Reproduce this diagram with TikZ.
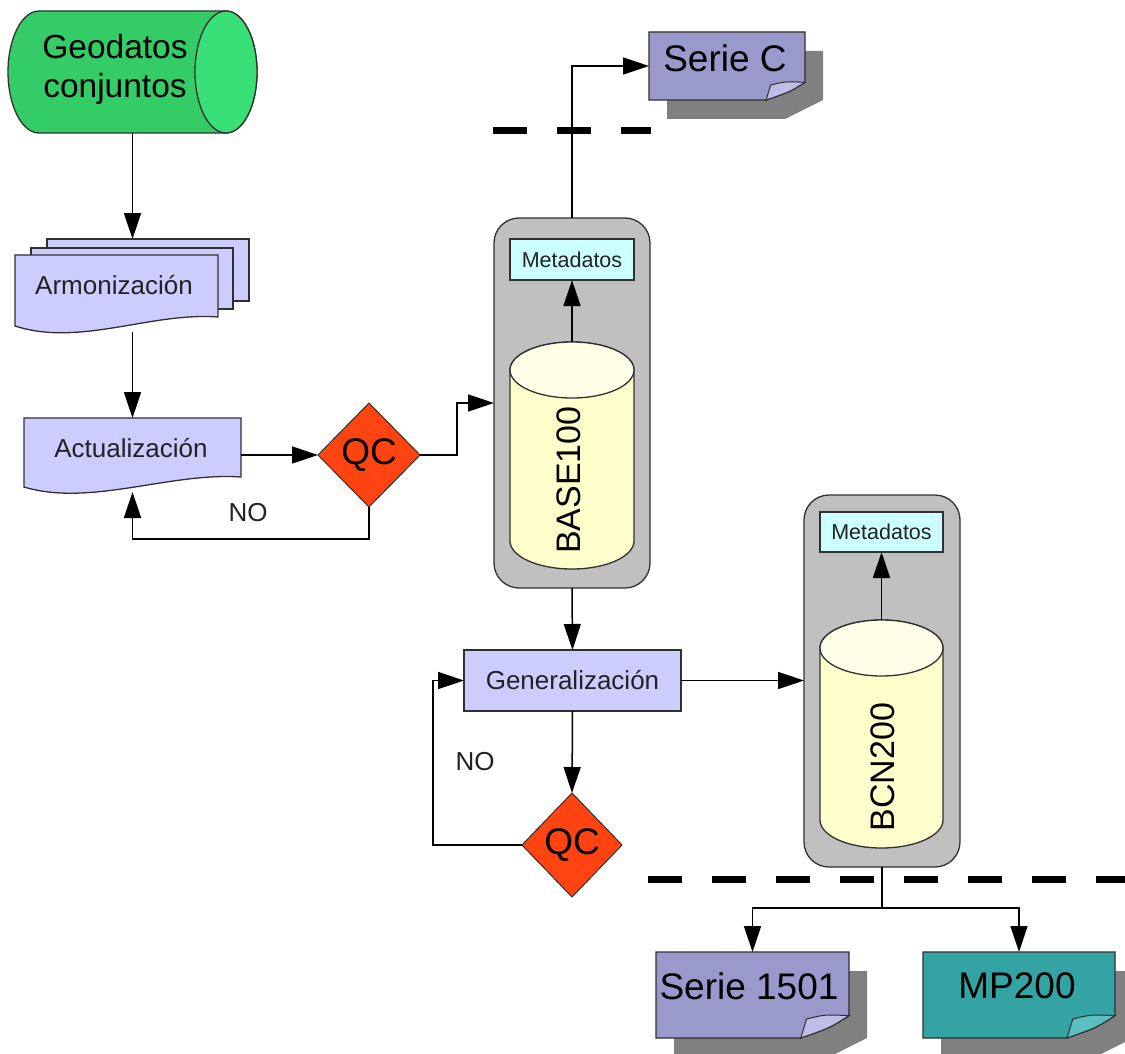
\documentclass[tikz,border=0pt]{standalone}
\usepackage{fontspec}
\setmainfont{Liberation Sans}
\usetikzlibrary{arrows.meta,shapes.geometric,calc}
\definecolor{geogreen}{HTML}{33CC66}
\definecolor{geogreenl}{HTML}{38E077}
\definecolor{lav}{HTML}{CCCCFF}
\definecolor{cyanl}{HTML}{CCFFFF}
\definecolor{grayb}{HTML}{C0C0C0}
\definecolor{cylf}{HTML}{FFFFCC}
\definecolor{cylt}{HTML}{FFFFE8}
\definecolor{qcred}{HTML}{FF4411}
\definecolor{notep}{HTML}{9999CC}
\definecolor{notepl}{HTML}{BDBDE8}
\definecolor{notet}{HTML}{33A3A3}
\definecolor{notetl}{HTML}{5CC0C0}
\definecolor{shadowg}{HTML}{808080}
\definecolor{edge}{HTML}{303030}
\definecolor{txtg}{HTML}{222222}
\newcommand\notebg[6]{%
 \pgfmathsetmacro\nbdx{0.25*(#3-#1)}%
 \pgfmathsetmacro\nbdy{0.26*(#4-#2)}%
 \fill[shadowg] ({#1+18},{#2+19}) -- ({#3+18},{#2+19}) -- ({#3+18},{#4}) -- ({#3-20},{#4+19}) -- ({#1+18},{#4+19}) -- cycle;
 \filldraw[shp, fill=#5] (#1,#2) -- (#3,#2) -- (#3,{#4-\nbdy}) .. controls ({#3-0.4*\nbdx},{#4-0.45*\nbdy}) .. ({#3-\nbdx},#4) -- (#1,#4) -- cycle;
 \filldraw[shp, fill=#6, line width=1pt] (#3,{#4-\nbdy}) .. controls ({#3-0.5*\nbdx},{#4-1.05*\nbdy}) .. ({#3-0.88*\nbdx},{#4-0.85*\nbdy}) -- ({#3-\nbdx},#4) .. controls ({#3-0.4*\nbdx},{#4-0.45*\nbdy}) .. (#3,{#4-\nbdy}) -- cycle;
}
\tikzset{
 boxfr/.style={inner sep=0pt, outer sep=0pt, draw=none},
 shp/.style={draw=edge, line width=1.3pt},
 conn/.style={line width=1.5pt, draw=black},
 arr/.style={conn, -{Triangle[length=26pt,width=17pt]}},
 dashsep/.style={line width=7pt, dash pattern=on 34pt off 30pt},
 midtxt/.style={font=\fontsize{26}{30}\selectfont, text=txtg, inner sep=0pt},
 bigtxt/.style={font=\fontsize{37}{44}\selectfont, text=black, inner sep=0pt},
 dbtxt/.style={font=\fontsize{34}{40}\selectfont, text=black, inner sep=0pt, rotate=90},
 metabox/.style={draw=edge, line width=1.3pt, fill=cyanl, minimum width=124pt, minimum height=41pt, inner sep=0pt, outer sep=0pt, font=\fontsize{21.5}{24}\selectfont, text=txtg},
 graybox/.style={draw=edge, line width=1.3pt, fill=grayb, rounded corners=25pt, minimum width=156pt, minimum height=370pt, inner sep=0pt, outer sep=0pt},
 qcnode/.style={diamond, draw=edge, line width=1pt, fill=qcred, inner sep=0pt, outer sep=0pt, font=\fontsize{37}{44}\selectfont},
}
\begin{document}
\begin{tikzpicture}[x=1pt,y=-1pt]
\useasboundingbox (0,0) rectangle (1125,1054);
% ---------- Geodatos conjuntos
\filldraw[shp, fill=geogreen] (39,11) arc[start angle=270, end angle=90, x radius=31, y radius=61] -- (226,133) arc[start angle=90, end angle=-90, x radius=31, y radius=61] -- cycle;
\filldraw[shp, fill=geogreenl] (226,72) ellipse [x radius=31, y radius=61];
\node[boxfr, minimum width=249pt, minimum height=122pt] (geo) at (132.5,72) {};
\node[font=\fontsize{33.5}{39}\selectfont, align=center, inner sep=0pt] (geo-t) at (115,69) {Geodatos\\conjuntos};
% ---------- Armonizacion (multi document)
\filldraw[shp, fill=lav] (47,239) rectangle (249,301);
\filldraw[shp, fill=lav] (31,248) rectangle (233,309);
\filldraw[shp, fill=lav] (15,255) -- (218,255) -- (218,317) .. controls (150,312) and (80,347) .. (15,326) -- cycle;
\node[boxfr, minimum width=234pt, minimum height=93pt] (arm) at (132,285.5) {};
\node[midtxt] (arm-t) at (114,285) {Armonización};
% ---------- Actualizacion
\filldraw[shp, fill=lav] (24,418) -- (241,418) -- (241,477) .. controls (170,472) and (90,507) .. (24,487) -- cycle;
\node[boxfr, minimum width=217pt, minimum height=74pt] (act) at (132.5,455) {};
\node[midtxt] (act-t) at (131,448) {Actualización};
% ---------- QC 1
\node[qcnode, minimum width=102pt, minimum height=104pt] (qc1) at (369,455) {QC};
% ---------- BASE100 group
\node[graybox] (base) at (572,403) {};
\node[metabox] (meta1) at (572,259.5) {Metadatos};
\filldraw[shp, fill=cylf] (510,370) -- (510,541) arc[start angle=180, end angle=0, x radius=62, y radius=28] -- (634,370) arc[start angle=360, end angle=180, x radius=62, y radius=28] -- cycle;
\filldraw[shp, fill=cylt] (572,370) ellipse [x radius=62, y radius=28];
\node[boxfr, minimum width=124pt, minimum height=227pt] (cyl1) at (572,455.5) {};
\node[dbtxt] (cyl1-t) at (569,480) {BASE100};
% ---------- Serie C
\notebg{649}{32}{805}{100}{notep}{notepl}
\node[boxfr, minimum width=156pt, minimum height=68pt] (serC) at (727,66) {};
\node[bigtxt] (serC-t) at (725,58) {Serie C};
% ---------- Generalizacion
\node[draw=edge, line width=1.3pt, fill=lav, minimum width=217pt, minimum height=61pt, inner sep=0pt, outer sep=0pt, font=\fontsize{26}{30}\selectfont, text=txtg] (gen) at (572.5,680.5) {Generalización};
\node[qcnode, minimum width=100pt, minimum height=104pt] (qc2) at (572,845) {QC};
% ---------- BCN200 group
\node[graybox, minimum height=372pt] (bcn) at (882,681) {};
\node[metabox, minimum width=123pt, minimum height=40pt] (meta2) at (881.5,532) {Metadatos};
\filldraw[shp, fill=cylf] (820,648) -- (820,820) arc[start angle=180, end angle=0, x radius=61.5, y radius=28] -- (943,648) arc[start angle=360, end angle=180, x radius=61.5, y radius=28] -- cycle;
\filldraw[shp, fill=cylt] (881.5,648) ellipse [x radius=61.5, y radius=28];
\node[boxfr, minimum width=123pt, minimum height=228pt] (cyl2) at (881.5,734) {};
\node[dbtxt] (cyl2-t) at (883,767) {BCN200};
% ---------- output notes
\notebg{656}{952}{849}{1038}{notep}{notepl}
\node[boxfr, minimum width=193pt, minimum height=86pt] (s1501) at (752.5,995) {};
\node[bigtxt] (s1501-t) at (749,986) {Serie 1501};
\notebg{923}{952}{1115}{1038}{notet}{notetl}
\node[boxfr, minimum width=192pt, minimum height=86pt] (mp) at (1019,995) {};
\node[bigtxt] (mp-t) at (1017,986) {MP200};
% ---------- separators
\draw[dashsep] (493,131) -- (651,131);
\draw[dashsep] (648,879) -- (1125,879);
% ---------- connectors
\draw[arr] (geo.south) -- (geo.south |- arm.north);
\draw[arr] (arm.south -| act.north) -- (act.north);
\draw[arr] (act.east) -- (qc1.west);
\draw[arr] (qc1.east) -- ++(37,0) |- (base.west);
\draw[arr] (qc1.south) -- ++(0,32) -| (act.south);
\node[font=\fontsize{26}{30}\selectfont, text=txtg, inner sep=0pt] (no1) at (248,513) {NO};
\draw[arr] (cyl1.north) -- (meta1.south);
\draw[arr] (base.north) |- (serC.west);
\draw[arr] (base.south) -- (gen.north);
\draw[arr] (gen.south) -- (qc2.north);
\draw[arr] (qc2.west) -- ++(-89,0) |- (gen.west);
\node[font=\fontsize{26}{30}\selectfont, text=txtg, inner sep=0pt] (no2) at (475,762) {NO};
\draw[arr] (gen.east) -- (gen.east -| bcn.west);
\draw[arr] (cyl2.north) -- (meta2.south);
\draw[conn] (bcn.south) -- ++(0,41) coordinate (split);
\draw[arr] (split) -| (s1501.north);
\draw[arr] (split) -| (mp.north);
\end{tikzpicture}
\end{document}
